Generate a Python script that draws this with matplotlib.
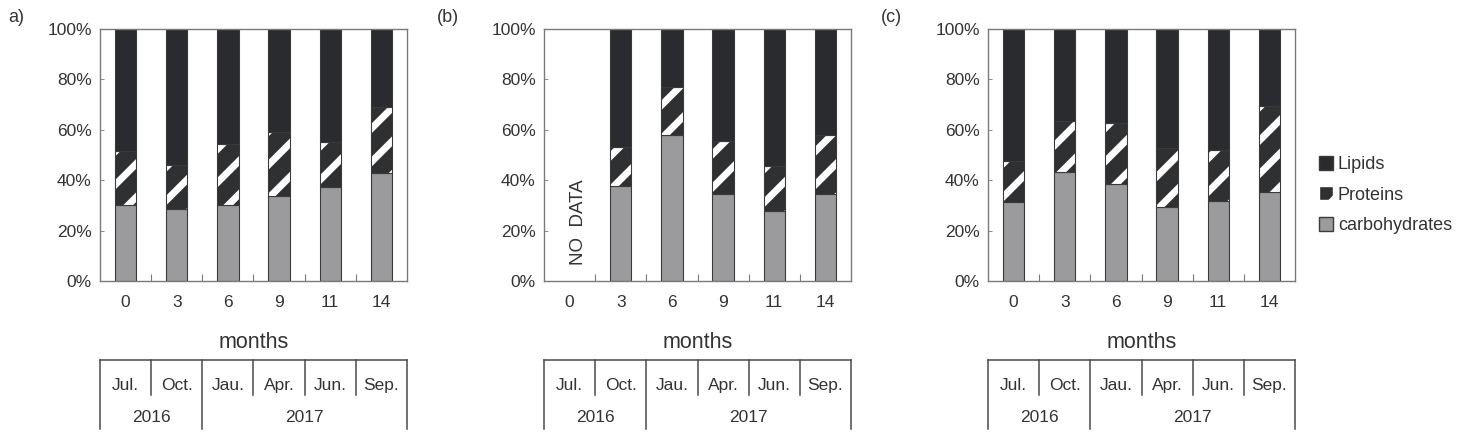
"""
Stacked composition (carbohydrates / proteins / lipids) over months, three panels.
"""
import numpy as np
import matplotlib.pyplot as plt
from matplotlib.patches import Patch
from matplotlib.transforms import blended_transform_factory
from matplotlib.ticker import FuncFormatter, FixedLocator

plt.rcParams["font.family"] = ["Liberation Sans", "DejaVu Sans"]
plt.rcParams["hatch.linewidth"] = 5.0

# data (percent of total)
months = ["0", "3", "6", "9", "11", "14"]
month_names = ["Jul.", "Oct.", "Jau.", "Apr.", "Jun.", "Sep."]
years = ["2016", "2017"]
year_spans = [(0, 2), (2, 6)]  # column index ranges for each year

carbs_a = [30.2, 28.4, 30.0, 33.9, 37.4, 42.7]
prot_a = [21.5, 17.5, 24.2, 25.4, 17.9, 26.5]

carbs_b = [0.0, 37.8, 57.9, 34.4, 27.9, 34.4]
prot_b = [0.0, 15.5, 19.0, 21.3, 17.7, 23.5]
has_data_b = [False, True, True, True, True, True]

carbs_c = [31.5, 43.4, 38.4, 29.5, 31.7, 35.4]
prot_c = [16.3, 20.2, 24.2, 23.1, 20.3, 34.0]

panel_labels = ["a)", "(b)", "(c)"]

# styles
C_LIPID = "#2a2b2e"
C_PROT = "#2e3032"
C_CARB = "#9b9b9d"
C_EDGE = "#3a3a3a"
C_TEXT = "#333333"
C_SPINE = "#7a7a7a"

W, H = 1458, 440
fig = plt.figure(figsize=(W / 100, H / 100), dpi=100)

lefts = [100, 544, 988]
ax_w = 307
ax_top, ax_bot = 29, 281


def draw_panel(ax, carbs, prot, has_data, label_x, label):
    keep = np.array(has_data)
    x = np.arange(len(months))[keep]
    carbs = np.array(carbs)[keep]
    prot = np.array(prot)[keep]
    lip = 100 - carbs - prot
    bw = 0.42
    ax.bar(x, carbs, bw, color=C_CARB, edgecolor=C_EDGE, linewidth=0.8, zorder=2)
    ax.bar(x, prot, bw, bottom=carbs, color=C_PROT, edgecolor="white",
           hatch="/", linewidth=0, zorder=2)
    ax.bar(x, prot, bw, bottom=carbs, fill=False, edgecolor=C_EDGE,
           linewidth=0.8, zorder=3)
    ax.bar(x, lip, bw, bottom=carbs + prot, color=C_LIPID, edgecolor=C_EDGE,
           linewidth=0.8, zorder=2)

    ticks = np.arange(len(months))
    ax.set_xlim(-0.5, 5.5)
    ax.set_ylim(0, 100)
    ax.set_xticks(ticks)
    ax.set_xticklabels(months)
    ax.xaxis.set_minor_locator(FixedLocator(np.arange(0.5, 5, 1)))
    ax.tick_params(axis="x", which="major", length=0, pad=10,
                   labelsize=12.5, colors=C_TEXT)
    ax.tick_params(axis="x", which="minor", direction="in", length=5,
                   width=0.8, color=C_SPINE)
    ax.set_yticks(np.arange(0, 101, 20))
    ax.yaxis.set_major_formatter(FuncFormatter(lambda v, p: f"{v:.0f}%"))
    ax.tick_params(axis="y", direction="in", length=3, width=0.6,
                   color=C_SPINE, pad=6, labelsize=12.5, labelcolor=C_TEXT)
    for s in ax.spines.values():
        s.set_color(C_SPINE)
        s.set_linewidth(1.0)

    # months label and date table below the axis
    tr = blended_transform_factory(ax.transData, fig.transFigure)
    fy = lambda py: 1 - py / H
    ax.text(2.5, fy(342), "months", transform=tr, ha="center", va="center",
            fontsize=15.5, color=C_TEXT)
    lkw = dict(transform=tr, color="#4a4a4a", linewidth=1.1, clip_on=False)
    ax.plot([-0.5, 5.5], [fy(360), fy(360)], **lkw)
    for b in [0.5, 2.5, 3.5, 4.5]:
        ax.plot([b, b], [fy(360), fy(395)], **lkw)
    for b in [-0.5, 1.5, 5.5]:
        ax.plot([b, b], [fy(360), fy(429)], **lkw)
    for i, name in enumerate(month_names):
        ax.text(i, fy(385), name, transform=tr, ha="center", va="center",
                fontsize=12.5, color=C_TEXT)
    for yr, (a, b) in zip(years, year_spans):
        ax.text((a + b - 1) / 2, fy(417), yr, transform=tr, ha="center",
                va="center", fontsize=12.5, color=C_TEXT)

    fig.text(label_x / W, fy(18), label, ha="left", va="center",
             fontsize=13, color=C_TEXT)


axes = []
for left in lefts:
    ax = fig.add_axes([left / W, 1 - ax_bot / H, ax_w / W, (ax_bot - ax_top) / H])
    axes.append(ax)

draw_panel(axes[0], carbs_a, prot_a, [True] * 6, 8, panel_labels[0])
draw_panel(axes[1], carbs_b, prot_b, has_data_b, 437, panel_labels[1])
draw_panel(axes[2], carbs_c, prot_c, [True] * 6, 881, panel_labels[2])

axes[1].text(0.17, 23.5, "NO  DATA", rotation=90, ha="center", va="center",
             fontsize=13.5, color=C_TEXT)

handles = [
    Patch(facecolor=C_LIPID, edgecolor=C_EDGE, label="Lipids"),
    Patch(facecolor=C_PROT, edgecolor="white", hatch="/", label="Proteins"),
    Patch(facecolor=C_CARB, edgecolor=C_EDGE, label="carbohydrates"),
]
fig.legend(handles=handles, loc="center left",
           bbox_to_anchor=(1310 / W, 1 - 195 / H), frameon=False,
           handlelength=0.8, handleheight=0.8, handletextpad=0.25,
           labelspacing=0.75, fontsize=13, labelcolor=C_TEXT, borderpad=0)

fig.savefig("out.png", dpi=100)
